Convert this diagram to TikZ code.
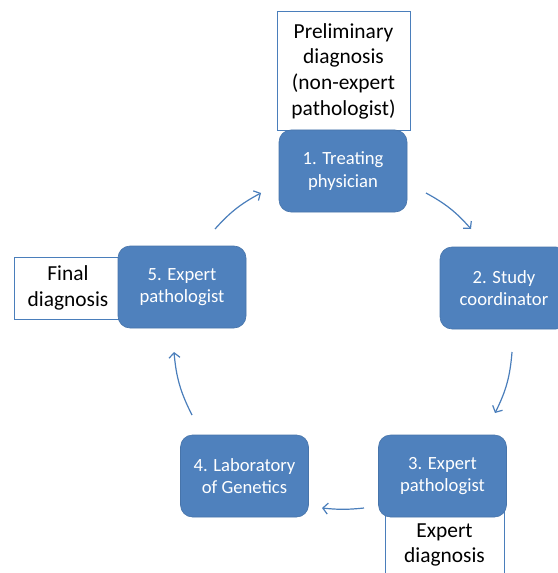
\documentclass[tikz,border=0pt]{standalone}
\usepackage{fontspec}
\setmainfont{Carlito}
\usetikzlibrary{arrows.meta}
\definecolor{boxblue}{HTML}{4F81BD}
\definecolor{edgeblue}{HTML}{4A7EBB}
\begin{document}
\begin{tikzpicture}[x=1bp,y=1bp,
  stepbox/.style={rectangle, rounded corners=12bp, fill=boxblue, draw=boxblue!90!black, line width=0.6bp,
    text=white, minimum width=128bp, minimum height=82bp, align=center, inner sep=0pt,
    font=\fontsize{18.7}{22.5}\selectfont},
  notebox/.style={rectangle, fill=white, draw=edgeblue, line width=1bp, align=center, inner sep=0pt,
    text=black, font=\fontsize{21.5}{25.7}\selectfont},
  flow/.style={draw=edgeblue, line width=1.2bp, -{Straight Barb[length=5bp,width=11bp]}}]
\useasboundingbox (0,0) rectangle (558,-573);
% note boxes (behind the step boxes)
\node[notebox, minimum width=133bp, minimum height=118bp] (prelim) at (343.5,-71) {Preliminary\\diagnosis\\(non-expert\\pathologist)};
\node[notebox, minimum width=106bp, minimum height=62bp] (final) at (68,-288) {Final\\diagnosis};
\node[notebox, minimum width=119bp, minimum height=90bp] (expert) at (444.5,-545) {Expert\\diagnosis};
% step boxes
\node[stepbox] (s1) at (343,-171) {1. Treating\\physician};
\node[stepbox] (s2) at (504,-288) {2. Study\\coordinator};
\node[stepbox] (s3) at (442.5,-476) {3. Expert\\pathologist};
\node[stepbox] (s4) at (244.5,-476) {4. Laboratory\\of Genetics};
\node[stepbox] (s5) at (182,-287) {5. Expert\\pathologist};
% arrow end points
\coordinate (a1s) at (426,-193); \coordinate (a1e) at (471,-229);
\coordinate (a2s) at (512,-352); \coordinate (a2e) at (495,-413);
\coordinate (a3s) at (364,-508); \coordinate (a3e) at (322,-508);
\coordinate (a4s) at (192,-415); \coordinate (a4e) at (174,-352);
\coordinate (a5s) at (215,-229); \coordinate (a5e) at (261,-193);
\draw[flow] (a1s) to[bend left=10] (a1e);
\draw[flow] (a2s) to[bend left=11] (a2e);
\draw[flow] (a3s) to[bend left=6] (a3e);
\draw[flow] (a4s) to[bend left=11] (a4e);
\draw[flow] (a5s) to[bend left=10] (a5e);
\end{tikzpicture}
\end{document}
